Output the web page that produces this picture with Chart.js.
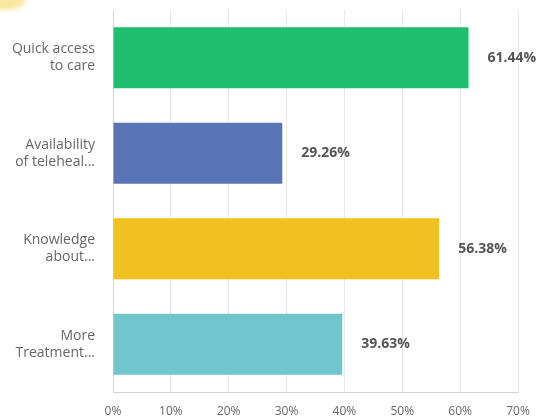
<!DOCTYPE html>
<html>
<head>
<meta charset="utf-8">
<script src="https://cdn.jsdelivr.net/npm/chart.js@4"></script>
<style>
  body { margin: 0; background: #fff; }
  #wrap { position: relative; width: 545px; height: 417px; }
  #glow {
    position: absolute; left: -6px; top: -8px; width: 32px; height: 18px;
    background: #fce7a2; border-radius: 0 0 60% 0; filter: blur(2px);
  }
</style>
</head>
<body>
<div id="wrap">
  <canvas id="answers"></canvas>
  <div id="glow"></div>
</div>
<script>
const categories = [
  ['Quick access', 'to care'],
  ['Availability', 'of teleheal...'],
  ['Knowledge', 'about...'],
  ['More', 'Treatment...']
];
const shares = [61.44, 29.26, 56.38, 39.63];
const xTicks = [0, 10, 20, 30, 40, 50, 60, 70];

const barColors = ['#1ec06d', '#5a74b5', '#f2c01f', '#70c6cc'];
const FONT = '"Open Sans", "Noto Sans", sans-serif';

// percentage printed just past the end of each bar
const valueLabels = {
  id: 'valueLabels',
  afterDatasetsDraw(chart) {
    const ctx = chart.ctx;
    const meta = chart.getDatasetMeta(0);
    ctx.save();
    ctx.font = 'bold 14px ' + FONT;
    ctx.fillStyle = '#555';
    ctx.textAlign = 'left';
    ctx.textBaseline = 'middle';
    meta.data.forEach((bar, i) => {
      ctx.fillText(shares[i].toFixed(2) + '%', bar.x + 19, bar.y);
    });
    ctx.restore();
  }
};

new Chart(document.getElementById('answers'), {
  type: 'bar',
  data: {
    labels: categories,
    datasets: [{
      data: shares,
      backgroundColor: barColors,
      categoryPercentage: 1,
      barPercentage: 0.64
    }]
  },
  options: {
    indexAxis: 'y',
    responsive: true,
    maintainAspectRatio: false,
    animation: false,
    layout: { padding: { top: 10, right: 27, bottom: 0, left: 0 } },
    plugins: { legend: { display: false }, tooltip: { enabled: false } },
    scales: {
      x: {
        min: 0,
        max: 70,
        afterBuildTicks: s => { s.ticks = xTicks.map(v => ({ value: v })); },
        afterFit: s => { s.height = 25; s.paddingLeft = 0; s.paddingRight = 0; },
        grid: { color: '#e8e8e8', drawTicks: false },
        border: { color: '#d4d4d4' },
        ticks: {
          padding: 12,
          color: '#666',
          font: { family: FONT, size: 12 },
          callback: v => v + '%'
        }
      },
      y: {
        afterFit: s => { s.width = 113; s.paddingTop = 0; s.paddingBottom = 0; },
        grid: { display: false, drawTicks: false },
        border: { color: '#d4d4d4' },
        ticks: {
          padding: 18,
          color: '#666',
          font: { family: FONT, size: 14, lineHeight: 1.2 }
        }
      }
    }
  },
  plugins: [valueLabels]
});
</script>
</body>
</html>
